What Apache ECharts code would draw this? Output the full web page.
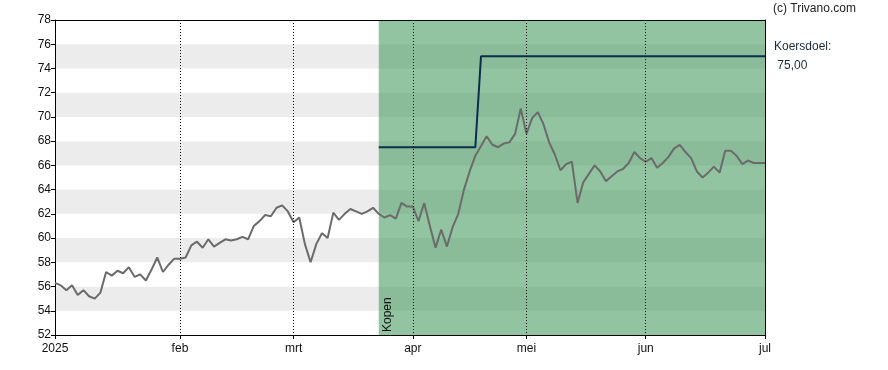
<!DOCTYPE html>
<html>
<head>
<meta charset="utf-8">
<script src="https://cdn.jsdelivr.net/npm/echarts@6/dist/echarts.min.js"></script>
<style>
html,body{margin:0;padding:0;background:#fff;}
#chart{width:888px;height:370px;}
</style>
</head>
<body>
<div id="chart"></div>
<script>
// Closing prices per trading day (2 Jan 2025 .. 1 Jul 2025)
var prices = [
  56.3, 56.1, 55.7, 56.1, 55.3, 55.7, 55.2, 55.0, 55.5, 57.2,
  56.9, 57.3, 57.1, 57.6, 56.8, 57.0, 56.5, 57.4, 58.4, 57.2,
  57.8, 58.3, 58.3, 58.4, 59.4, 59.7, 59.2, 59.9, 59.3, 59.6,
  59.9, 59.8, 59.9, 60.1, 59.9, 61.0, 61.4, 61.9, 61.8, 62.5,
  62.7, 62.2, 61.3, 61.7, 59.5, 58.0, 59.5, 60.4, 60.0, 62.1,
  61.5, 62.0, 62.4, 62.2, 62.0, 62.2, 62.5, 62.0, 61.7, 61.9,
  61.6, 62.9, 62.6, 62.6, 61.4, 62.9, 61.0, 59.2, 60.7, 59.3,
  60.9, 62.0, 64.0, 65.5, 66.8, 67.6, 68.4, 67.7, 67.5, 67.8,
  67.9, 68.6, 70.7, 68.6, 69.9, 70.4, 69.4, 67.9, 66.9, 65.6,
  66.1, 66.3, 62.9, 64.6, 65.3, 66.0, 65.5, 64.7, 65.1, 65.5,
  65.7, 66.2, 67.1, 66.6, 66.3, 66.6, 65.8, 66.2, 66.7, 67.4,
  67.7, 67.1, 66.6, 65.5, 65.0, 65.4, 65.9, 65.4, 67.2, 67.2,
  66.8, 66.1, 66.4, 66.2, 66.2, 66.2
];
// Analyst target price (Koersdoel) steps: [startIndex, value]
var targetSteps = [[57, 67.5], [75, 75.0]];
// Advice zone
var adviceStartIdx = 57;
var adviceLabel = 'Kopen';
// Month tick labels and their trading-day index
var monthLabels = ['2025', 'feb', 'mrt', 'apr', 'mei', 'jun', 'jul'];
var monthIdx = [0, 22, 42, 63, 83, 104, 125];
// y axis
var yMin = 52, yMax = 78, yStep = 2;
var targetText = 'Koersdoel:';
var targetValueText = ' 75,00';
var copyright = '(c) Trivano.com';

var cats = prices.map(function (v, i) { return String(i); });
var target = prices.map(function (v, i) {
  var val = null;
  targetSteps.forEach(function (s) { if (i >= s[0]) val = s[1]; });
  return val;
});
var innerMonthIdx = monthIdx.slice(1, monthIdx.length - 1);
function labelFor(i) {
  var k = monthIdx.indexOf(Number(i));
  return k >= 0 ? monthLabels[k] : '';
}

var font = 'Liberation Sans, Arial, sans-serif';
var chart = echarts.init(document.getElementById('chart'), null, {renderer: 'canvas'});
chart.setOption({
  animation: false,
  grid: {left: 55, right: 123, top: 20, bottom: 35, containLabel: false},
  title: [
    {text: copyright, left: 773, top: 3, padding: 0, textStyle: {fontFamily: font, fontSize: 12, fontWeight: 'normal', color: '#222'}},
    {text: targetText, left: 774, top: 41, padding: 0, textStyle: {fontFamily: font, fontSize: 12, fontWeight: 'normal', color: '#1c2b3a'}},
    {text: targetValueText, left: 774, top: 60, padding: 0, textStyle: {fontFamily: font, fontSize: 12, fontWeight: 'normal', color: '#1c2b3a'}}
  ],
  xAxis: [{
    type: 'category', data: cats, boundaryGap: false, z: 10,
    axisLine: {show: true, lineStyle: {color: '#000', width: 1}},
    axisTick: {show: true, length: 4, lineStyle: {color: '#000'},
      interval: function (i) { return monthIdx.indexOf(i) >= 0; }},
    axisLabel: {show: true, color: '#111', fontFamily: font, fontSize: 12, margin: 8,
      interval: function (i) { return monthIdx.indexOf(i) >= 0; },
      formatter: function (v) { return labelFor(v); }},
    splitLine: {show: true, lineStyle: {color: '#000', type: [1, 2], width: 1},
      interval: function (i) { return innerMonthIdx.indexOf(i) >= 0; }}
  }, {
    type: 'category', data: cats, boundaryGap: false, position: 'top', z: 10,
    axisLine: {show: true, lineStyle: {color: '#000', width: 1}},
    axisTick: {show: false}, axisLabel: {show: false}, splitLine: {show: false}
  }],
  yAxis: [{
    type: 'value', min: yMin, max: yMax, interval: yStep, z: 0,
    axisLine: {show: true, lineStyle: {color: '#000', width: 1}},
    axisTick: {show: true, length: 4, lineStyle: {color: '#000'}},
    axisLabel: {color: '#111', fontFamily: font, fontSize: 12, margin: 4},
    splitLine: {show: false},
    splitArea: {show: true, areaStyle: {color: ['#ffffff', '#ececec']}}
  }, {
    type: 'value', min: yMin, max: yMax, interval: yStep, position: 'right', z: 10,
    axisLine: {show: true, lineStyle: {color: '#000', width: 1}},
    axisTick: {show: false}, axisLabel: {show: false}, splitLine: {show: false}, splitArea: {show: false}
  }],
  series: [{
    type: 'line', data: prices, showSymbol: false, symbol: 'none', z: 4,
    lineStyle: {color: '#6b6b6b', width: 2},
    markArea: {
      silent: true,
      itemStyle: {color: 'rgba(60,150,89,0.56)'},
      label: {show: true, position: 'insideBottomLeft', distance: 3, rotate: 90,
        align: 'left', verticalAlign: 'top', color: '#111', fontFamily: font, fontSize: 12},
      data: [[{xAxis: String(adviceStartIdx), name: adviceLabel}, {xAxis: String(prices.length - 1)}]]
    }
  }, {
    type: 'line', data: target, showSymbol: false, symbol: 'none', z: 3,
    lineStyle: {color: '#0d2d4d', width: 2}
  }]
});
</script>
</body>
</html>
